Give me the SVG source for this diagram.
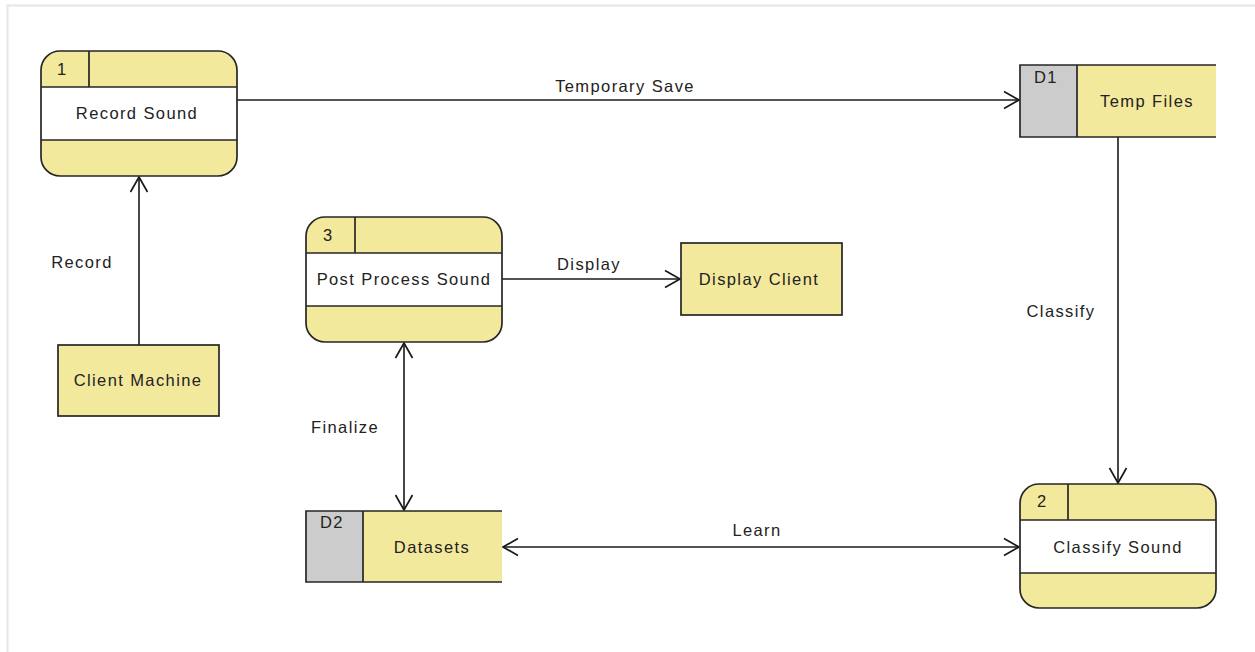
<svg xmlns="http://www.w3.org/2000/svg" width="1255" height="652" viewBox="0 0 1255 652">
  <style>
    text { font-family: "Liberation Sans", Arial, sans-serif; font-size: 16.5px; fill: #222; letter-spacing: 1.4px; }
    .c { text-anchor: middle; }
    .fill { fill: #f3e99c; stroke: none; }
    .band { fill: #ffffff; stroke: none; }
    .gray { fill: #cccccc; stroke: none; }
    .line { fill: none; stroke: #262626; stroke-width: 1.7; }
    .flow { fill: none; stroke: #1a1a1a; stroke-width: 1.6; }
  </style>
  <defs>
    <marker id="arrow" markerUnits="userSpaceOnUse" markerWidth="22" markerHeight="22" viewBox="-18 -11 22 22" refX="0" refY="0" orient="auto-start-reverse">
      <path d="M-15,-8.5 L0,0 L-15,8.5" fill="none" stroke="#1a1a1a" stroke-width="1.7"/>
    </marker>
  </defs>

  <!-- canvas frame -->
  <path d="M7.5,652 L7.5,5.5 L1255,5.5" fill="none" stroke="#e6e6e6" stroke-width="2"/>

  <!-- connectors -->
  <g id="connectors">
    <line class="flow" x1="237" y1="100" x2="1019" y2="100" marker-end="url(#arrow)"/>
    <text class="c" x="625" y="92">Temporary Save</text>
    <line class="flow" x1="139" y1="345" x2="139" y2="177" marker-end="url(#arrow)"/>
    <text class="c" x="82" y="268">Record</text>
    <line class="flow" x1="502" y1="279" x2="680" y2="279" marker-end="url(#arrow)"/>
    <text class="c" x="589" y="270">Display</text>
    <line class="flow" x1="404" y1="343" x2="404" y2="510" marker-start="url(#arrow)" marker-end="url(#arrow)"/>
    <text class="c" x="345" y="433">Finalize</text>
    <line class="flow" x1="1118" y1="137" x2="1118" y2="483" marker-end="url(#arrow)"/>
    <text class="c" x="1061" y="317">Classify</text>
    <line class="flow" x1="503" y1="547" x2="1019" y2="547" marker-start="url(#arrow)" marker-end="url(#arrow)"/>
    <text class="c" x="757" y="536">Learn</text>
  </g>

  <!-- process 1 -->
  <g id="process-1">
    <rect class="fill" x="41" y="51" width="196" height="125" rx="19"/>
    <rect class="band" x="41" y="87" width="196" height="53"/>
    <rect class="line" x="41" y="51" width="196" height="125" rx="19"/>
    <line class="line" x1="41" y1="87" x2="237" y2="87"/>
    <line class="line" x1="41" y1="140" x2="237" y2="140"/>
    <line class="line" x1="89" y1="51" x2="89" y2="87"/>
    <text x="57" y="75">1</text>
    <text class="c" x="137" y="119">Record Sound</text>
  </g>

  <!-- data store D1 -->
  <g id="store-d1">
    <rect class="gray" x="1020" y="65" width="57" height="72"/>
    <rect class="fill" x="1077" y="65" width="139" height="72"/>
    <path class="line" d="M1216,65 L1020,65 L1020,137 L1216,137 M1077,65 L1077,137"/>
    <text class="c" x="1046" y="83">D1</text>
    <text class="c" x="1147" y="107">Temp Files</text>
  </g>

  <!-- process 3 -->
  <g id="process-3">
    <rect class="fill" x="306" y="217" width="196" height="125" rx="19"/>
    <rect class="band" x="306" y="253" width="196" height="53"/>
    <rect class="line" x="306" y="217" width="196" height="125" rx="19"/>
    <line class="line" x1="306" y1="253" x2="502" y2="253"/>
    <line class="line" x1="306" y1="306" x2="502" y2="306"/>
    <line class="line" x1="355" y1="217" x2="355" y2="253"/>
    <text x="323" y="241">3</text>
    <text class="c" x="404" y="285">Post Process Sound</text>
  </g>

  <!-- external entity: Display Client -->
  <g id="entity-display-client">
    <rect class="fill" x="681" y="243" width="161" height="72"/>
    <rect class="line" x="681" y="243" width="161" height="72"/>
    <text class="c" x="759" y="285">Display Client</text>
  </g>

  <!-- external entity: Client Machine -->
  <g id="entity-client-machine">
    <rect class="fill" x="58" y="345" width="161" height="71"/>
    <rect class="line" x="58" y="345" width="161" height="71"/>
    <text class="c" x="138" y="386">Client Machine</text>
  </g>

  <!-- data store D2 -->
  <g id="store-d2">
    <rect class="gray" x="306" y="511" width="57" height="71"/>
    <rect class="fill" x="363" y="511" width="139" height="71"/>
    <path class="line" d="M502,511 L306,511 L306,582 L502,582 M363,511 L363,582"/>
    <text class="c" x="332" y="528">D2</text>
    <text class="c" x="432" y="553">Datasets</text>
  </g>

  <!-- process 2 -->
  <g id="process-2">
    <rect class="fill" x="1020" y="484" width="196" height="124" rx="19"/>
    <rect class="band" x="1020" y="520" width="196" height="53"/>
    <rect class="line" x="1020" y="484" width="196" height="124" rx="19"/>
    <line class="line" x1="1020" y1="520" x2="1216" y2="520"/>
    <line class="line" x1="1020" y1="573" x2="1216" y2="573"/>
    <line class="line" x1="1068" y1="484" x2="1068" y2="520"/>
    <text x="1037" y="507">2</text>
    <text class="c" x="1118" y="553">Classify Sound</text>
  </g>
</svg>
